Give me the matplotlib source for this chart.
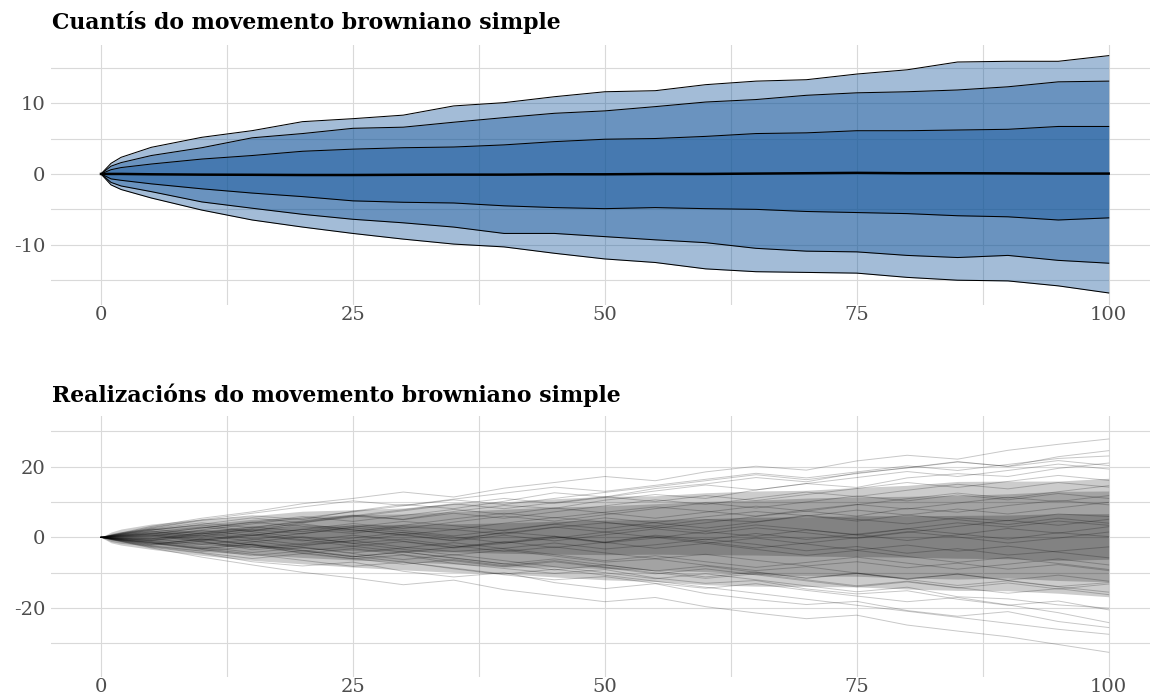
import matplotlib.pyplot as plt
from matplotlib.ticker import MultipleLocator

# quantile curves of the simple brownian motion
t = [0, 1, 2, 5, 10, 15, 20, 25, 30, 35, 40, 45, 50, 55, 60, 65, 70, 75, 80, 85, 90, 95, 100]
q95 = [0, 1.5, 2.35, 3.76, 5.17, 6.11, 7.38, 7.8, 8.3, 9.6, 10.06, 10.9, 11.6, 11.75,
       12.6, 13.1, 13.3, 14.1, 14.7, 15.8, 15.9, 15.9, 16.7]
q90 = [0, 1.1, 1.6, 2.6, 3.7, 5.1, 5.7, 6.44, 6.6, 7.3, 7.95, 8.56, 8.9, 9.5,
       10.15, 10.5, 11.1, 11.45, 11.6, 11.85, 12.3, 13.0, 13.1]
q75 = [0, 0.6, 0.9, 1.4, 2.1, 2.6, 3.2, 3.5, 3.7, 3.8, 4.1, 4.56, 4.9, 5.0,
       5.3, 5.7, 5.8, 6.1, 6.1, 6.2, 6.3, 6.7, 6.7]
q50 = [0, 0, 0, -0.05, -0.1, -0.12, -0.15, -0.15, -0.12, -0.1, -0.1, -0.05, -0.05, 0.0,
       0.0, 0.05, 0.1, 0.15, 0.1, 0.1, 0.08, 0.05, 0.05]
q25 = [0, -0.7, -0.9, -1.4, -2.1, -2.7, -3.2, -3.8, -4.0, -4.1, -4.5, -4.75, -4.9, -4.75,
       -4.9, -5.0, -5.3, -5.45, -5.6, -5.9, -6.05, -6.5, -6.2]
q10 = [0, -1.2, -1.7, -2.5, -3.95, -4.84, -5.7, -6.4, -6.9, -7.5, -8.4, -8.4, -8.85, -9.3,
       -9.7, -10.5, -10.9, -11.0, -11.5, -11.8, -11.5, -12.2, -12.6]
q05 = [0, -1.55, -2.2, -3.4, -5.1, -6.5, -7.5, -8.4, -9.2, -9.9, -10.3, -11.2, -12.0, -12.5,
       -13.4, -13.8, -13.9, -14.0, -14.6, -15.0, -15.1, -15.8, -16.8]

# a handful of realizations, estimated from the bottom panel (every 5 steps)
t_paths = [0, 5, 10, 15, 20, 25, 30, 35, 40, 45, 50, 55, 60, 65, 70, 75, 80, 85, 90, 95, 100]
paths = [
    [0, 2.1, 3.5, 1.8, 4.2, 6.0, 5.1, 7.3, 9.0, 8.2, 10.5, 12.1, 11.0, 13.4, 15.2, 14.1, 16.8, 18.0, 17.2, 19.5, 21.0],
    [0, -1.5, -3.2, -2.0, -4.6, -6.1, -5.0, -7.4, -8.8, -10.2, -9.1, -11.5, -13.0, -12.2, -14.6, -16.0, -15.1, -17.5, -19.2, -18.0, -20.5],
    [0, 1.0, -0.8, 0.5, 2.3, 1.1, 3.0, 2.2, 0.9, 2.8, 4.1, 3.2, 5.0, 4.4, 6.2, 5.1, 3.8, 5.5, 4.7, 6.6, 5.9],
    [0, -2.2, -1.1, -3.5, -2.4, -0.9, -2.8, -4.0, -3.1, -1.6, -3.3, -2.1, -0.5, -2.0, -3.8, -2.6, -4.5, -3.2, -5.0, -3.9, -2.7],
    [0, 2.6, 4.8, 6.1, 5.0, 7.4, 9.3, 8.1, 10.2, 12.6, 11.4, 13.8, 15.1, 16.9, 15.7, 18.2, 19.6, 21.3, 20.1, 22.8, 24.5],
    [0, -0.6, 1.2, -0.4, -2.1, -1.0, 0.8, -0.9, 1.5, 0.3, -1.4, 0.6, -0.7, 1.1, -0.6, 0.9, 2.4, 1.0, -0.5, 1.3, 0.2],
    [0, -2.8, -4.5, -6.9, -8.1, -7.0, -9.6, -11.2, -10.0, -12.8, -14.5, -13.1, -15.9, -17.6, -19.0, -18.1, -20.7, -22.3, -21.0, -23.8, -25.5],
    [0, 1.8, 0.4, 2.5, 3.8, 2.1, 0.7, 2.2, 4.0, 5.6, 4.3, 2.6, 4.1, 5.9, 7.4, 6.0, 8.2, 7.1, 9.0, 10.4, 9.2],
    [0, -1.2, -2.9, -1.3, 0.2, -1.7, -3.4, -5.0, -3.6, -5.3, -7.0, -6.1, -7.9, -9.4, -8.3, -10.1, -11.7, -10.4, -12.2, -13.9, -12.8],
    [0, 0.9, 2.7, 4.3, 3.1, 1.6, 3.4, 5.2, 6.8, 5.5, 7.1, 8.6, 7.4, 6.0, 7.8, 9.3, 8.0, 9.7, 11.3, 10.1, 11.8],
    [0, -1.9, -0.6, 1.0, -0.7, -2.5, -1.2, -3.0, -1.7, 0.1, -1.6, -0.2, 1.6, 0.3, 2.1, 0.8, -0.9, 0.7, 2.5, 1.2, 3.0],
    [0, 3.1, 5.4, 7.2, 9.5, 11.0, 12.8, 11.4, 13.9, 15.5, 17.2, 16.0, 18.5, 20.1, 19.0, 21.6, 23.2, 22.1, 24.6, 26.3, 27.8],
    [0, -3.0, -5.6, -7.8, -9.9, -11.5, -13.4, -12.1, -14.8, -16.5, -18.2, -17.0, -19.6, -21.4, -23.0, -22.0, -24.8, -26.5, -28.1, -30.3, -32.5],
    [0, 0.5, -1.3, -3.0, -1.8, -0.2, 1.4, 0.1, -1.6, -0.3, 1.5, 3.0, 1.8, 3.5, 2.2, 0.6, 2.4, 4.1, 2.9, 4.6, 3.4],
    [0, -0.8, 0.9, 2.2, 1.0, 2.9, 4.5, 3.3, 1.9, 3.7, 2.4, 4.2, 5.8, 7.3, 6.1, 4.6, 6.3, 5.0, 3.6, 5.4, 4.0],
    [0, 1.5, 2.9, 1.6, -0.1, -1.7, -0.5, -2.3, -4.0, -2.7, -4.4, -6.0, -4.8, -6.5, -8.1, -6.9, -8.6, -7.3, -9.0, -7.7, -9.4],
    [0, -2.4, -3.9, -2.6, -4.3, -6.0, -7.6, -6.3, -8.0, -6.6, -8.4, -10.0, -11.6, -10.3, -12.0, -13.7, -12.4, -14.2, -15.8, -14.5, -16.2],
    [0, 2.3, 1.0, 2.8, 4.6, 6.3, 5.0, 6.8, 5.4, 7.2, 8.9, 10.6, 9.3, 11.1, 12.8, 11.5, 13.3, 15.0, 13.7, 15.5, 14.2],
    [0, -0.3, -2.0, -0.6, 1.1, 2.7, 1.3, -0.4, 1.2, 2.9, 1.5, 0.0, -1.7, -0.2, -1.9, -3.6, -2.2, -3.9, -2.5, -4.2, -5.8],
    [0, 1.1, 2.6, 4.2, 5.9, 4.5, 6.2, 7.9, 6.5, 8.3, 6.9, 5.4, 7.1, 8.8, 7.4, 9.2, 10.9, 12.5, 11.1, 12.9, 14.6],
    [0, -1.7, -3.4, -5.2, -3.8, -5.5, -4.1, -5.9, -7.5, -9.2, -7.8, -9.5, -8.1, -9.9, -11.6, -10.2, -11.9, -13.6, -12.3, -14.0, -15.5],
    [0, 0.2, 1.9, 0.5, 2.2, 3.9, 2.5, 4.3, 6.0, 4.6, 6.4, 8.1, 9.7, 8.3, 10.0, 11.7, 10.3, 12.0, 10.6, 12.4, 11.0],
    [0, -1.0, 0.6, -1.1, -2.8, -4.4, -3.0, -1.5, -3.2, -4.9, -6.6, -5.2, -6.9, -8.5, -7.1, -5.6, -7.3, -9.0, -7.6, -6.1, -7.8],
    [0, 2.0, 3.7, 5.5, 4.1, 5.8, 7.5, 9.3, 11.0, 9.6, 11.3, 13.1, 14.8, 13.4, 15.2, 16.9, 18.6, 17.2, 18.9, 20.7, 19.3],
    [0, -2.0, -0.5, -2.2, -3.9, -2.5, -4.2, -2.8, -1.2, -2.9, -1.4, 0.3, -1.3, -3.0, -1.6, -0.1, 1.6, 0.1, -1.6, -0.2, 1.5],
    [0, 1.3, -0.4, -2.1, -3.8, -5.5, -4.1, -5.8, -7.5, -6.1, -7.8, -9.5, -11.2, -9.8, -11.5, -10.1, -11.8, -10.4, -12.1, -10.7, -12.4],
    [0, -0.4, 1.3, 3.0, 1.6, 3.3, 1.9, 0.4, 2.1, 3.8, 5.5, 4.1, 2.6, 4.3, 6.0, 7.7, 6.3, 8.0, 6.6, 8.3, 9.9],
    [0, 0.7, -1.0, 0.7, -1.0, 0.6, -1.1, -2.8, -1.4, 0.3, -1.4, -3.1, -1.7, -3.4, -5.1, -3.7, -5.4, -7.1, -5.7, -7.4, -9.1],
    [0, 2.4, 4.1, 2.7, 4.4, 6.1, 7.8, 9.5, 8.1, 9.8, 11.5, 10.1, 11.8, 10.4, 12.1, 13.8, 15.5, 14.1, 15.8, 17.5, 16.1],
    [0, -2.6, -4.3, -6.0, -4.6, -3.2, -4.9, -6.6, -8.3, -6.9, -8.6, -10.3, -8.9, -10.6, -12.3, -14.0, -12.6, -14.3, -12.9, -14.6, -13.2],
    [0, 1.6, 0.1, 1.8, 3.5, 2.1, 0.6, -1.0, 0.6, -1.0, 0.7, 2.4, 1.0, 2.7, 1.3, -0.3, 1.4, 3.1, 4.8, 3.4, 5.1],
    [0, -1.4, -3.1, -4.8, -6.5, -8.2, -7.0, -8.9, -10.6, -12.0, -11.1, -13.0, -14.4, -13.1, -15.0, -16.6, -18.2, -17.0, -19.1, -21.3, -24.1],
    [0, 2.8, 5.0, 6.8, 8.6, 10.3, 9.0, 10.8, 12.5, 14.2, 13.0, 14.7, 16.4, 18.1, 16.8, 18.5, 20.2, 18.9, 20.6, 22.3, 23.0],
    [0, -0.9, -2.6, -4.3, -2.9, -4.6, -6.3, -4.9, -6.6, -8.3, -10.0, -11.7, -10.3, -12.0, -13.7, -15.4, -14.1, -16.8, -17.4, -19.1, -20.0],
    [0, 0.4, 2.1, 3.8, 5.5, 7.2, 8.9, 10.6, 9.3, 11.0, 12.7, 14.3, 16.0, 17.7, 16.3, 18.0, 19.7, 21.4, 20.0, 21.7, 20.3],
    [0, -1.6, -3.3, -1.9, -3.6, -5.3, -7.0, -8.7, -10.4, -9.0, -10.7, -12.4, -14.1, -15.8, -17.5, -19.2, -20.9, -22.6, -24.3, -26.0, -27.4],
]

plt.rcParams['font.family'] = 'DejaVu Serif'
plt.rcParams['axes.unicode_minus'] = False

W, H = 1150, 697
fig = plt.figure(figsize=(W / 100, H / 100), dpi=100)

ax1 = fig.add_axes([50.6 / W, (H - 305) / H, 1 - 50.6 / W, 260 / H])
ax2 = fig.add_axes([50.6 / W, (H - 676.7) / H, 1 - 50.6 / W, 260.7 / H])


def style(ax, ymajor, ylim):
    ax.set_xlim(-5, 104.1)
    ax.set_ylim(*ylim)
    ax.xaxis.set_major_locator(MultipleLocator(25))
    ax.xaxis.set_minor_locator(MultipleLocator(12.5))
    ax.yaxis.set_major_locator(MultipleLocator(ymajor))
    ax.yaxis.set_minor_locator(MultipleLocator(ymajor / 2))
    ax.grid(which='both', color='#D9D9D9', lw=0.8)
    ax.set_axisbelow(True)
    for s in ax.spines.values():
        s.set_visible(False)
    ax.tick_params(which='both', length=0, labelsize=14, labelcolor='#4D4D4D')
    ax.tick_params(axis='x', pad=1)
    ax.tick_params(axis='y', pad=4)


# top: quantile ribbons
blue = (13 / 255, 81 / 255, 152 / 255)
for lo, hi in [(q05, q95), (q10, q90), (q25, q75)]:
    ax1.fill_between(t, lo, hi, color=blue, alpha=0.38, lw=0)
for q in [q05, q10, q25, q75, q90, q95]:
    ax1.plot(t, q, color='black', lw=0.75)
ax1.plot(t, q50, color='black', lw=1.8)
style(ax1, 10, (-18.5, 18.2))

# bottom: realizations, with the density of the path cloud shaded underneath
for lo, hi in [(q05, q95), (q10, q90), (q25, q75)]:
    ax2.fill_between(t, lo, hi, color='black', alpha=0.2, lw=0)
for p in paths:
    ax2.plot(t_paths, p, color='black', lw=0.7, alpha=0.22)
style(ax2, 20, (-39.4, 34.3))

fig.text(52 / W, 1 - 22 / H, 'Cuantís do movemento browniano simple',
         fontsize=15.8, fontweight='bold', va='center', ha='left')
fig.text(52 / W, 1 - 395 / H, 'Realizacións do movemento browniano simple',
         fontsize=15.8, fontweight='bold', va='center', ha='left')

fig.savefig('out.png', dpi=100)
